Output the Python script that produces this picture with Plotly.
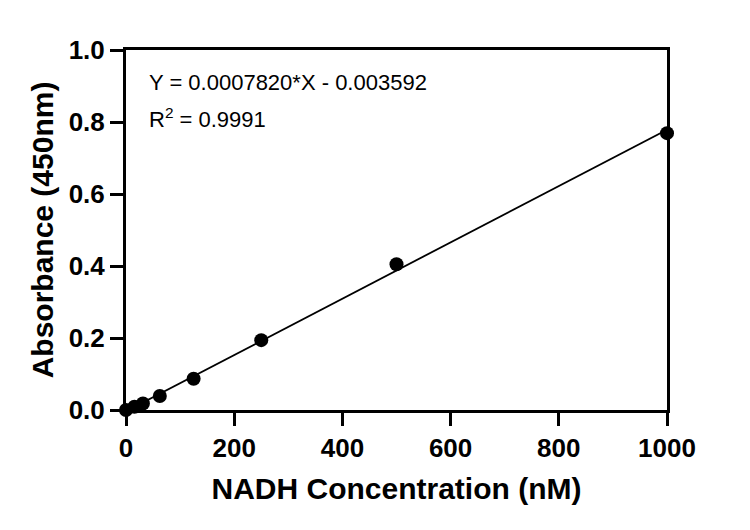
import numpy as np
import plotly.graph_objects as go

# NADH standard curve
conc_nm = [0, 15.6, 31.25, 62.5, 125, 250, 500, 1000]
absorbance = [0.0, 0.009, 0.018, 0.039, 0.087, 0.194, 0.405, 0.769]

slope = 0.0007820
intercept = -0.003592
r_squared = 0.9991

x_ticks = [0, 200, 400, 600, 800, 1000]
y_ticks = [0.0, 0.2, 0.4, 0.6, 0.8, 1.0]

fit_x = np.array([0, 1000], dtype=float)
fit_y = slope * fit_x + intercept

FONT = "Liberation Sans, Arial, sans-serif"

fig = go.Figure()
fig.add_trace(
    go.Scatter(
        x=fit_x,
        y=fit_y,
        mode="lines",
        line=dict(color="black", width=1.8),
        showlegend=False,
        cliponaxis=False,
    )
)
fig.add_trace(
    go.Scatter(
        x=conc_nm,
        y=absorbance,
        mode="markers",
        marker=dict(color="black", size=14),
        showlegend=False,
        cliponaxis=False,
    )
)

fig.add_annotation(
    x=0.039, y=0.911, xref="paper", yref="paper",
    text=f"Y = {slope:.7f}*X - {abs(intercept):.6f}",
    showarrow=False, xanchor="left", yanchor="middle",
    font=dict(family=FONT, size=22, color="black"),
)
fig.add_annotation(
    x=0.039, y=0.811, xref="paper", yref="paper",
    text=f"R<sup>2</sup> = {r_squared:.4f}",
    showarrow=False, xanchor="left", yanchor="middle",
    font=dict(family=FONT, size=22, color="black"),
)

tick_font = dict(family=FONT, size=26, color="black", weight="bold")
title_font = dict(family=FONT, size=30, color="black", weight="bold")

fig.update_layout(
    width=750,
    height=530,
    plot_bgcolor="white",
    paper_bgcolor="white",
    margin=dict(l=118, r=91, t=42, b=128),
    xaxis=dict(
        range=[0, 1000],
        tickvals=x_ticks,
        ticks="outside",
        ticklen=13,
        tickwidth=3,
        tickcolor="black",
        showline=True,
        linewidth=3,
        linecolor="black",
        mirror=True,
        showgrid=False,
        zeroline=False,
        tickfont=tick_font,
        title=dict(text="NADH Concentration (nM)", font=title_font, standoff=16),
    ),
    yaxis=dict(
        range=[0, 1.0],
        tickvals=y_ticks,
        tickformat=".1f",
        ticks="outside",
        ticklen=13,
        tickwidth=3,
        tickcolor="black",
        showline=True,
        linewidth=3,
        linecolor="black",
        mirror=True,
        showgrid=False,
        zeroline=False,
        tickfont=tick_font,
        title=dict(text="Absorbance (450nm)", font=title_font, standoff=7),
    ),
)

fig.write_html("out.html")
